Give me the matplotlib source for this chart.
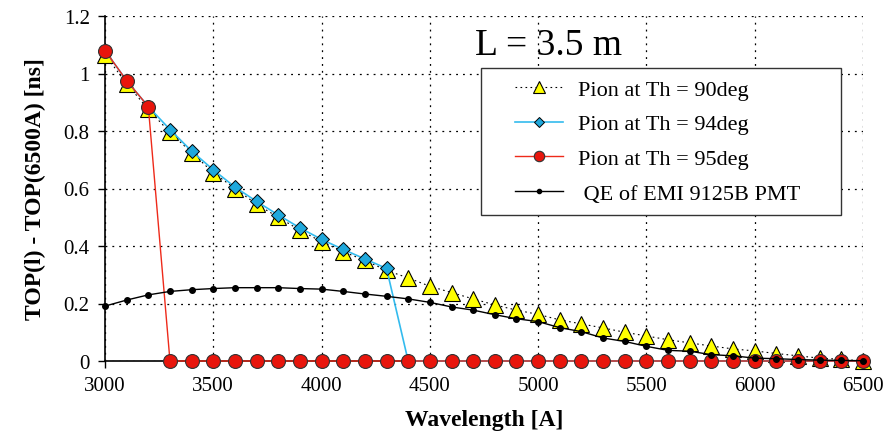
import numpy as np
import matplotlib.pyplot as plt
from matplotlib.lines import Line2D
from matplotlib.legend_handler import HandlerLine2D

# wavelength grid [A]
wl = np.arange(3000, 6501, 100)

# Pion at Th = 90deg
th90 = [1.065, 0.965, 0.875, 0.795, 0.725, 0.655, 0.6, 0.545, 0.5, 0.455,
        0.415, 0.38, 0.35, 0.315, 0.289, 0.26, 0.238, 0.216, 0.195, 0.177,
        0.162, 0.143, 0.129, 0.115, 0.1, 0.087, 0.074, 0.063, 0.052, 0.042,
        0.035, 0.026, 0.018, 0.01, 0.006, 0.0]

# Pion at Th = 94deg
th94 = [1.08, 0.975, 0.885, 0.805, 0.73, 0.665, 0.605, 0.555, 0.508, 0.463,
        0.423, 0.388, 0.355, 0.322] + [0.0] * 22

# Pion at Th = 95deg
th95 = [1.08, 0.975, 0.885] + [0.0] * 33

# QE of EMI 9125B PMT
qe = [0.191, 0.212, 0.23, 0.242, 0.248, 0.252, 0.255, 0.255, 0.255, 0.252,
      0.25, 0.242, 0.233, 0.225, 0.216, 0.204, 0.188, 0.177, 0.161, 0.147,
      0.137, 0.116, 0.102, 0.08, 0.068, 0.051, 0.037, 0.034, 0.022, 0.018,
      0.01, 0.008, 0.005, 0.003, 0.002, 0.001]

plt.rcParams['font.family'] = ['Liberation Serif', 'DejaVu Serif']

fig = plt.figure(figsize=(8.93, 4.35), dpi=100)
ax = fig.add_axes([105/893, 1-362/435, (863-105)/893, (362-17)/435])

ax.plot(wl, th90, ls=(0, (1.5, 3)), color='black', lw=0.8, marker='^',
        ms=12, mfc='#FFFF00', mec='black', mew=0.8, label='Pion at Th = 90deg',
        zorder=3, clip_on=False)
ax.plot(wl, th94, ls='-', color='#33BBEE', lw=1.2, marker='D',
        ms=7, mfc='#1FA8DC', mec='black', mew=0.7, label='Pion at Th = 94deg',
        zorder=4, clip_on=False)
ax.plot(wl, th95, ls='-', color='#EE2A1A', lw=1.0, marker='o',
        ms=10, mfc='#E8150C', mec='#333333', mew=0.8, label='Pion at Th = 95deg',
        zorder=5, clip_on=False)
ax.plot(wl, qe, ls='-', color='black', lw=1.0, marker='o',
        ms=4, mfc='black', mec='black', label=' QE of EMI 9125B PMT',
        zorder=6, clip_on=False)

ax.set_xlim(3000, 6500)
ax.set_ylim(0, 1.2)
ax.set_xticks(np.arange(3000, 6501, 500))
ax.set_yticks([0, 0.2, 0.4, 0.6, 0.8, 1.0, 1.2])
ax.set_yticklabels(['0', '0.2', '0.4', '0.6', '0.8', '1', '1.2'])
ax.tick_params(direction='out', length=5, width=1, labelsize=15, pad=6)
ax.grid(True, color='black', ls=(0, (1.5, 4)), lw=0.9)
ax.set_axisbelow(True)
for s in ['top', 'right']:
    ax.spines[s].set_visible(False)
for s in ['left', 'bottom']:
    ax.spines[s].set_linewidth(1.2)

ax.set_xlabel('Wavelength [A]', fontsize=17, fontweight='bold', labelpad=10)
ax.set_ylabel('TOP(l) - TOP(6500A) [ns]', fontsize=17, fontweight='bold', labelpad=13)

fig.text(475/893, 1-46/435, 'L = 3.5 m', fontsize=27, va='center', ha='left')

leg = ax.legend(loc='upper left', bbox_to_anchor=(481/893, 0, 360/893, 1-69/435),
                bbox_transform=fig.transFigure, mode='expand', fontsize=16,
                frameon=True, fancybox=False, edgecolor='#333333', framealpha=1,
                handlelength=3.2, labelspacing=0.64, borderpad=0.5,
                handletextpad=0.68, borderaxespad=0,
                handler_map={Line2D: HandlerLine2D(xpad=1.03)})
leg.get_frame().set_linewidth(1.0)
for h in leg.legend_handles:
    h.set_markersize(h.get_markersize() * 0.75)

fig.savefig('out.png', dpi=100)
